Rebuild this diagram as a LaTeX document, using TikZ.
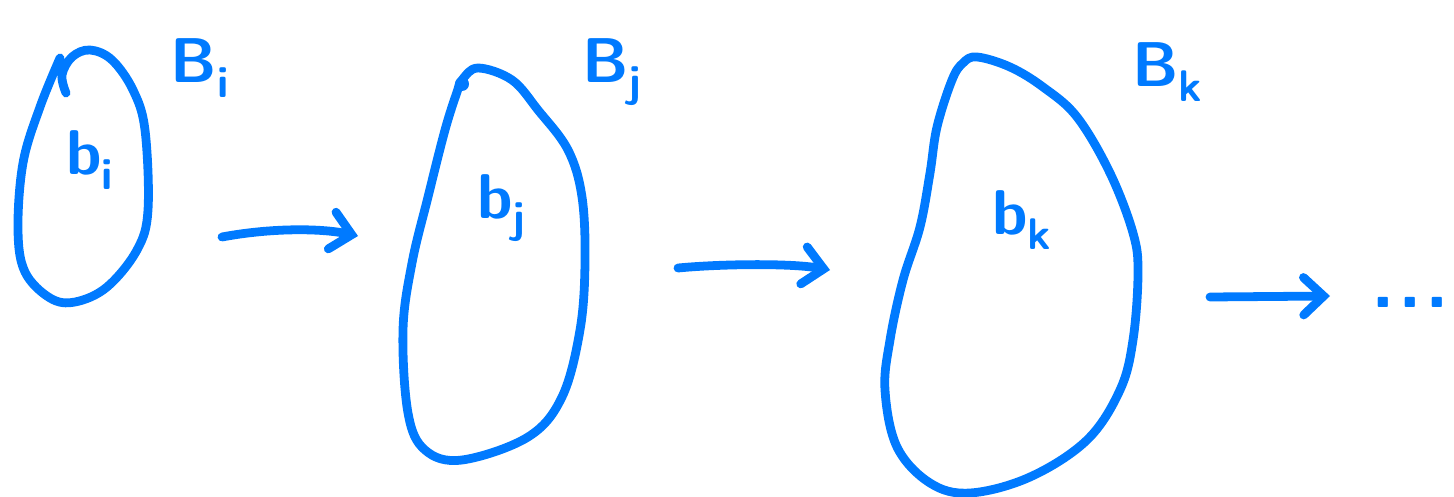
\documentclass[tikz,border=0pt]{standalone}
\usepackage{tikz}
\usetikzlibrary{arrows.meta}
\definecolor{penblue}{RGB}{0,122,255}

\begin{document}
\begin{tikzpicture}[x=0.02cm,y=-0.02cm,
  pen/.style={penblue,line width=5pt,line cap=round,line join=round},
  lbl/.style={penblue,font=\sffamily\bfseries\fontsize{36}{40}\selectfont,inner sep=0pt},
  every node/.style={font=\small}]
  \useasboundingbox (0,0) rectangle (1454,497);
  % the three sets
  \draw[pen] plot[smooth,tension=0.6] coordinates {(60,58) (40,107) (23,163) (18,230) (25,272) (50,298) (75,302) (107,287) (137,250) (148,210) (145,130) (133,90) (112,60) (90,50) (72,57) (62,75) (66,93)};
  \draw[pen] plot[smooth cycle,tension=0.6] coordinates {(462,80) (478,68) (512,80) (538,110) (568,150) (582,197) (585,263) (580,330) (562,397) (528,437) (462,460) (425,450) (408,413) (403,330) (412,263) (428,197) (445,130) (457,92)};
  \fill[penblue] (462,84) circle (7);
  \draw[pen] plot[smooth cycle,tension=0.6] coordinates {(977,57) (963,63) (952,80) (937,127) (930,173) (920,227) (903,280) (890,340) (885,390) (897,447) (930,483) (970,493) (1030,477) (1087,440) (1120,390) (1133,340) (1138,273) (1133,233) (1110,173) (1077,117) (1043,87) (1010,67)};
  % labels
  \node[lbl] (Bi) at (200,68) {B\textsubscript{i}};
  \node[lbl] (bi) at (90,160) {b\textsubscript{i}};
  \node[lbl] (Bj) at (612,72) {B\textsubscript{j}};
  \node[lbl] (bj) at (502,208) {b\textsubscript{j}};
  \node[lbl] (Bk) at (1168,72) {B\textsubscript{k}};
  \node[lbl] (bk) at (1022,220) {b\textsubscript{k}};
  \node[lbl,font=\sffamily\bfseries\fontsize{44}{48}\selectfont,anchor=base] (dots) at (1410,307) {.\hspace{2pt}.\hspace{2pt}.};
  % maps between them
  \coordinate (s1) at (222,237); \coordinate (t1) at (358,236);
  \coordinate (s2) at (678,268); \coordinate (t2) at (830,270);
  \coordinate (s3) at (1210,297); \coordinate (t3) at (1330,296);
  \draw[pen,-{Straight Barb[length=4mm,width=7.5mm,line cap=round]}] (s1) .. controls (270,228) and (320,228) .. (t1);
  \draw[pen,-{Straight Barb[length=4mm,width=7.5mm,line cap=round]}] (s2) .. controls (720,264) and (790,263) .. (t2);
  \draw[pen,-{Straight Barb[length=4mm,width=7.5mm,line cap=round]}] (s3) -- (t3);
\end{tikzpicture}
\end{document}
